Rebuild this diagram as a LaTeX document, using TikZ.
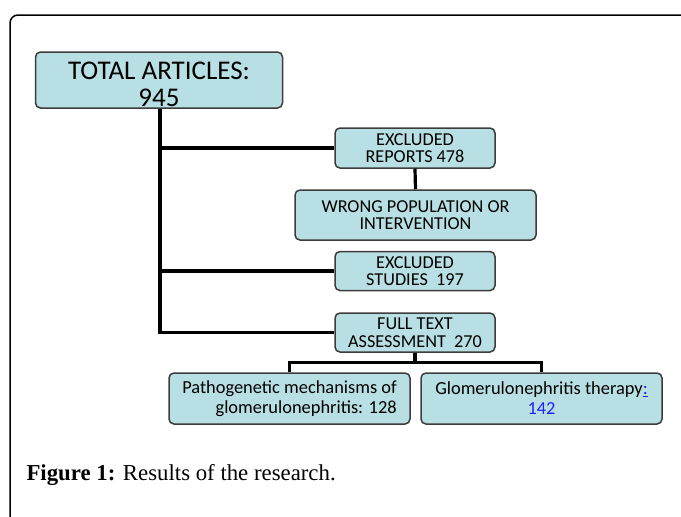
\documentclass[tikz,border=0pt]{standalone}
\usepackage{fontspec}
\setmainfont{Carlito}
\newfontfamily\captionfont{Liberation Serif}
\usepackage{xcolor}
\usetikzlibrary{calc}
\definecolor{boxfill}{HTML}{B8DFE3}
\definecolor{boxline}{HTML}{3C3C3C}
\definecolor{linkblue}{HTML}{2020FF}

\begin{document}
\begin{tikzpicture}[
    x=1pt, y=-1pt,
    box/.style={draw=boxline, fill=boxfill, line width=1.5pt, rounded corners=5pt,
                align=center, inner sep=0pt,
                font=\fontsize{18.2}{17.5}\selectfont},
    leaf/.style={box, minimum width=241pt, minimum height=51pt,
                 font=\fontsize{18.4}{20}\selectfont},
    link/.style={line width=3.2pt, black},
  ]
    \useasboundingbox (0,0) rectangle (681,517);
    % page frame
    \draw[line width=1.5pt, rounded corners=8pt] (10,530) |- (700,15);

    \node[box, minimum width=247pt, minimum height=56pt,
          font=\fontsize{27}{27}\selectfont] (total) at (159,80)
      {\rule{0pt}{26pt}TOTAL ARTICLES:\\945};
    \node[box, minimum width=160pt, minimum height=40pt] (reports) at (415,148)
      {EXCLUDED\\REPORTS 478};
    \node[box, minimum width=241pt, minimum height=50pt] (wrong) at (415.5,215)
      {WRONG POPULATION OR\\INTERVENTION};
    \node[box, minimum width=160pt, minimum height=39pt] (studies) at (415,271)
      {EXCLUDED\\STUDIES\ \ 197};
    \node[box, minimum width=160pt, minimum height=39pt] (fulltext) at (415,332.5)
      {FULL TEXT\\ASSESSMENT\ \ 270};
    \node[leaf, align=right] (patho) at (289.5,398.5)
      {Pathogenetic mechanisms of\\glomerulonephritis: 128};
    \node[leaf] (therapy) at (541.5,398.5)
      {Glomerulonephritis therapy{\color{linkblue}\underline{:}}\\{\color{linkblue}142}};

    \coordinate (top)   at ($(total.south)+(1,0)$);
    \coordinate (trunk) at (top |- fulltext.west);
    \coordinate (split) at ($(fulltext.south)!0.5!(fulltext.south |- patho.north)$);

    \draw[link] (top) -- (trunk) -- (fulltext.west);
    \draw[link] (top |- reports.west) -- (reports.west);
    \draw[link] (top |- studies.west) -- (studies.west);
    \draw[link] (reports.south) -- (wrong.north);
    \draw[link] (fulltext.south) -- (split);
    \draw[link] (patho.north) |- (split) -| (therapy.north);

    \node[anchor=base west, font=\captionfont\fontsize{22.8}{24}\selectfont] (caption) at (23,480)
      {\textbf{Figure 1:} Results of the research.};
  \end{tikzpicture}
\end{document}
